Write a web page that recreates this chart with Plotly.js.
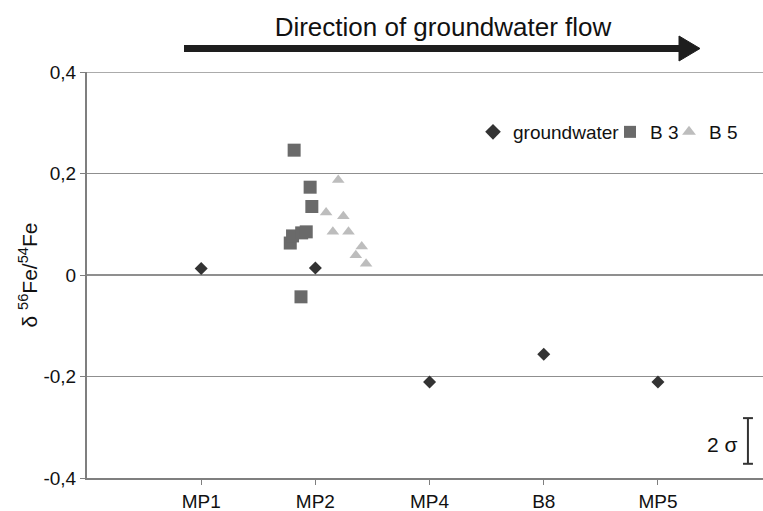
<!DOCTYPE html>
<html>
<head>
<meta charset="utf-8">
<script src="https://cdn.plot.ly/plotly-3.0.1.min.js"></script>
<style>html,body{margin:0;padding:0;background:#fff;}#chart{width:763px;height:511px;}</style>
</head>
<body>
<div id="chart"></div>
<script>
// Categories along the flow direction
const categories = ['MP1', 'MP2', 'MP4', 'B8', 'MP5'];
const categoryPos = [1, 2, 3, 4, 5];

// groundwater (diamonds)
const gwX = [1, 2, 3, 4, 5];
const gwY = [0.013, 0.014, -0.211, -0.156, -0.211];

// B 3 (squares)
const b3X = [1.814, 1.954, 1.969, 1.78, 1.80, 1.88, 1.92, 1.874];
const b3Y = [0.246, 0.173, 0.135, 0.063, 0.077, 0.083, 0.085, -0.043];

// B 5 (triangles)
const b5X = [2.20, 2.094, 2.245, 2.153, 2.29, 2.406, 2.354, 2.444];
const b5Y = [0.187, 0.123, 0.116, 0.085, 0.085, 0.056, 0.039, 0.022];

// y tick labels (decimal comma)
const yTickVals = [-0.4, -0.2, 0, 0.2, 0.4];
const yTickText = ['-0,4', '-0,2', '0', '0,2', '0,4'];

const FONT = 'Liberation Sans, Arial, sans-serif';

const traces = [
  {x: gwX, y: gwY, name: 'groundwater', type: 'scatter', mode: 'markers', legend: 'legend',
   marker: {symbol: 'diamond', size: 10, color: '#333333'}},
  {x: b3X, y: b3Y, name: 'B 3', type: 'scatter', mode: 'markers', legend: 'legend2',
   marker: {symbol: 'square', size: 13, color: '#6a6a6a'}},
  {x: b5X, y: b5Y, name: 'B 5', type: 'scatter', mode: 'markers', legend: 'legend3',
   marker: {symbol: 'triangle-up', size: 11, color: '#bdbdbd'}}
];

const L = 87, T = 72, PW = 676, PH = 406;
const px = v => (v - L) / PW;       // pixel x -> paper x
const py = v => (T + PH - v) / PH;  // pixel y -> paper y

const legendBase = {orientation: 'h', xanchor: 'left', y: py(132), yanchor: 'middle',
  font: {family: FONT, size: 19, color: '#111111'}, bgcolor: 'rgba(0,0,0,0)',
  itemwidth: 30, itemsizing: 'constant'};

const layout = {
  width: 763, height: 511,
  margin: {l: L, r: 0, t: T, b: 511 - T - PH},
  paper_bgcolor: '#ffffff', plot_bgcolor: '#ffffff',
  font: {family: FONT, color: '#222222', size: 19},
  title: {text: 'Direction of groundwater flow', font: {family: FONT, size: 26, color: '#111111'},
          x: 443 / 763, xanchor: 'center', xref: 'container',
          y: 1 - 27 / 511, yanchor: 'middle', yref: 'container'},
  showlegend: true,
  legend: Object.assign({}, legendBase, {x: px(473)}),
  legend2: Object.assign({}, legendBase, {x: px(610)}),
  legend3: Object.assign({}, legendBase, {x: px(669)}),
  xaxis: {range: [0, 5.92], tickvals: categoryPos, ticktext: categories,
          showgrid: false, zeroline: false, showline: true, linecolor: '#7f7f7f', linewidth: 2,
          ticks: 'outside', ticklen: 5, tickcolor: '#7f7f7f', tickwidth: 1,
          tickfont: {family: FONT, size: 19, color: '#111111'}, fixedrange: true},
  yaxis: {range: [-0.4, 0.4], tickvals: yTickVals, ticktext: yTickText,
          showgrid: true, gridcolor: '#8f8f8f', gridwidth: 1.5, zeroline: false,
          showline: true, linecolor: '#7f7f7f', linewidth: 2,
          ticks: 'outside', ticklen: 5, tickcolor: '#7f7f7f', tickwidth: 1,
          tickfont: {family: FONT, size: 19, color: '#111111'},
          title: {text: 'δ <sup>56</sup>Fe/<sup>54</sup>Fe', font: {family: FONT, size: 21, color: '#111111'}, standoff: 0},
          fixedrange: true},
  shapes: [
    // top gridline at 0,4
    {type: 'line', xref: 'paper', yref: 'y', x0: 0, x1: 1, y0: 0.4, y1: 0.4,
     line: {color: '#8f8f8f', width: 1.5}},
    // flow arrow shaft
    {type: 'line', xref: 'paper', yref: 'paper', x0: px(184), x1: px(682), y0: py(48.5), y1: py(48.5),
     line: {color: '#1e1e1e', width: 7}},
    // flow arrow head
    {type: 'path', xref: 'paper', yref: 'paper',
     path: `M ${px(679)} ${py(36)} L ${px(700)} ${py(48.5)} L ${px(679)} ${py(61)} Z`,
     fillcolor: '#1e1e1e', line: {color: '#1e1e1e', width: 1}},
    // 2 sigma bar
    {type: 'line', xref: 'x', yref: 'y', x0: 5.788, x1: 5.788, y0: -0.282, y1: -0.372,
     line: {color: '#333333', width: 2}},
    {type: 'line', xref: 'x', yref: 'y', x0: 5.745, x1: 5.832, y0: -0.282, y1: -0.282,
     line: {color: '#333333', width: 2}},
    {type: 'line', xref: 'x', yref: 'y', x0: 5.745, x1: 5.832, y0: -0.372, y1: -0.372,
     line: {color: '#333333', width: 2}}
  ],
  annotations: [
    {text: '2 σ', xref: 'x', yref: 'y', x: 5.561, y: -0.333, showarrow: false,
     font: {family: FONT, size: 21, color: '#111111'}, xanchor: 'center', yanchor: 'middle'}
  ]
};

Plotly.newPlot('chart', traces, layout, {displayModeBar: false, staticPlot: true});
</script>
</body>
</html>
